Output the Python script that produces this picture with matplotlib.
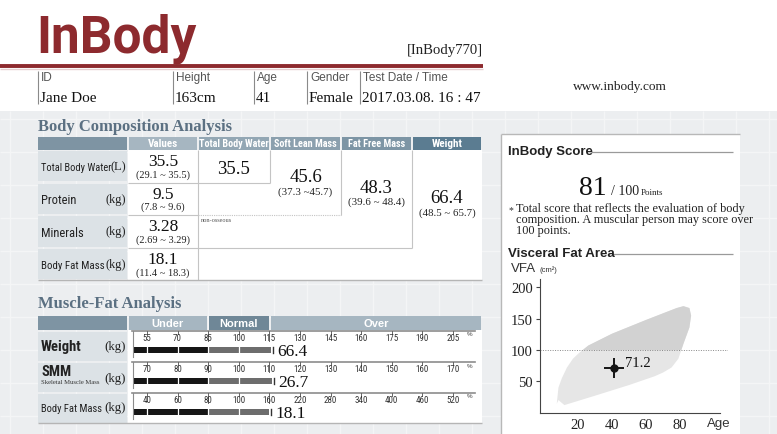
import numpy as np
import matplotlib
matplotlib.use("Agg")
import matplotlib.pyplot as plt
from matplotlib import font_manager as fm
from matplotlib.patches import Rectangle

# ---- data ----
info_labels = ["ID", "Height", "Age", "Gender", "Test Date / Time"]
info_values = ["Jane Doe", "163cm", "41", "Female", "2017.03.08. 16 : 47"]

bca_headers = ["Values", "Total Body Water", "Soft Lean Mass", "Fat Free Mass", "Weight"]
bca_rows = ["Total Body Water", "Protein", "Minerals", "Body Fat Mass"]
bca_units = ["(L)", "(kg)", "(kg)", "(kg)"]
bca_values = ["35.5", "9.5", "3.28", "18.1"]
bca_ranges = ["(29.1 ~ 35.5)", "(7.8 ~ 9.6)", "(2.69 ~ 3.29)", "(11.4 ~ 18.3)"]
sum_values = ["35.5", "45.6", "48.3", "66.4"]
sum_ranges = ["", "(37.3 ~45.7)", "(39.6 ~ 48.4)", "(48.5 ~ 65.7)"]

mfa_headers = ["Under", "Normal", "Over"]
mfa_rows = ["Weight", "SMM", "Body Fat Mass"]
mfa_values = [66.4, 26.7, 18.1]
mfa_percent = [116, 111, 159]
mfa_ticks = [
    [55, 70, 85, 100, 115, 130, 145, 160, 175, 190, 205],
    [70, 80, 90, 100, 110, 120, 130, 140, 150, 160, 170],
    [40, 60, 80, 100, 160, 220, 280, 340, 400, 460, 520],
]

score = 81
score_note = ["Total score that reflects the evaluation of body",
              "composition. A muscular person may score over",
              "100 points."]

vfa_age = 41
vfa_value = 71.2
region_age = [8.5, 7.5, 8.5, 10.5, 13.5, 17, 20.5, 26, 40, 60, 78, 82, 85.5, 86.5, 85.5, 82, 79, 75, 70, 65, 50, 30, 12]
region_vfa = [20, 14, 40, 55, 72, 86, 95, 107, 126, 148, 167, 170, 167, 155, 136, 110, 86, 72, 64, 58, 44, 27, 12]

# ---- style ----
W, H = 777, 435
SERIF = "Liberation Serif"
SANS = "Liberation Sans"
RED = "#8d2a2e"
SLATE = "#5b7082"
LINE = "#c4c4c4"
LABEL_BG = "#dce2e6"


def has_family(name):
    try:
        fm.findfont(fm.FontProperties(family=name), fallback_to_default=False)
        return True
    except ValueError:
        return False


NARROW = None
for cand in ["Liberation Sans Narrow", "Roboto Condensed", "Arial Narrow"]:
    if has_family(cand):
        NARROW = cand
        break


def narrow(size, bold=False):
    # condensed label font, or a smaller regular sans when none is installed
    if NARROW:
        return dict(family=NARROW, fontsize=size, weight="bold" if bold else "normal")
    return dict(family=SANS, fontsize=size * 0.84, weight="bold" if bold else "normal")


fig = plt.figure(figsize=(W / 100, H / 100), dpi=100)
fig.patch.set_facecolor("#eceef0")
ax = fig.add_axes([0, 0, 1, 1])
ax.set_xlim(0, W)
ax.set_ylim(H, 0)
ax.axis("off")


def px_axes(x0, y0, x1, y1):
    return fig.add_axes([x0 / W, 1 - y1 / H, (x1 - x0) / W, (y1 - y0) / H])


def box(x0, y0, x1, y1, color, z=1):
    ax.add_patch(Rectangle((x0, y0), x1 - x0, y1 - y0, facecolor=color,
                           edgecolor="none", zorder=z))


def seg(x0, y0, x1, y1, color=LINE, lw=0.8, ls="-", z=3):
    ax.plot([x0, x1], [y0, y1], color=color, lw=lw, ls=ls, zorder=z,
            solid_capstyle="butt")


# background texture
for gx in np.arange(10, W, 33):
    seg(gx, 112, gx, H, color="#f4f5f6", lw=1, z=0.5)
for gy in np.arange(120, H, 33):
    seg(0, gy, W, gy, color="#f4f5f6", lw=1, z=0.5)

# ---- header ----
box(0, 0, W, 112, "white")
ax.text(36, 53, "InBody", fontsize=37, family="Roboto", weight="bold",
        color=RED, va="baseline", zorder=5)
seg(0, 67, 483, 67, color=RED, lw=2.8, z=4)
seg(0, 69.5, 483, 69.5, color="#e6cfd0", lw=1, z=4)
ax.text(483, 54, "[InBody770]", fontsize=10.6, family=SERIF, ha="right",
        va="baseline", color="#222", zorder=5)

info_x = [38, 173, 254, 307, 360]
for x, lab, val in zip(info_x, info_labels, info_values):
    seg(x, 72, x, 105, color="#8a8a8a", lw=0.8)
    ax.text(x + 3, 78, lab, fontsize=8.5, family=SANS, color="#555", va="center")
    ax.text(x + 2, 98, val, fontsize=11, family=SERIF, color="#111", va="center")
ax.text(620, 87, "www.inbody.com", fontsize=9.6, family=SERIF, ha="center",
        va="center", color="#222")

# ---- Body Composition Analysis ----
ax.text(38, 127, "Body Composition Analysis", fontsize=12, family=SERIF,
        weight="bold", color=SLATE, va="center")
col_x = [38, 128, 198, 270, 341, 412, 482]
head_colors = ["#7e94a3", "#a6b6c1", "#93a7b4", "#8ba0ae", "#7d95a5", "#5b7c91"]
for i in range(6):
    box(col_x[i] + (0 if i == 0 else 1), 138, col_x[i + 1] - 1, 151, head_colors[i])
for i, h in enumerate(bca_headers):
    ax.text((col_x[i + 1] + col_x[i + 2]) / 2, 144.5, h, color="white",
            ha="center", va="center", zorder=5,
            **narrow(8 if h in ("Values", "Weight") else 7.3, bold=True))

row_top = 151
row_h = 32.6
label_sizes = [7.5, 9.0, 9.0, 7.8]
box(128, row_top, 482, row_top + 4 * row_h, "white")
for i, (name, unit, v, r) in enumerate(zip(bca_rows, bca_units, bca_values, bca_ranges)):
    t = row_top + i * row_h
    box(38, t + 1.2, 127, t + row_h - 1.2, LABEL_BG)
    ax.text(41, t + row_h / 2 + 1, name, color="#222", va="center", zorder=5,
            **narrow(label_sizes[i]))
    ax.text(126, t + row_h / 2, unit, fontsize=9, family=SERIF,
            color="#222", va="center", ha="right", zorder=5)
    ax.text(163, t + 11, v, fontsize=12.5, family=SERIF, ha="center",
            va="center", color="#111", zorder=5)
    ax.text(163, t + 24, r, fontsize=7.5, family=SERIF, ha="center",
            va="center", color="#222", zorder=5)
    if i > 0:
        seg(128, t, 198, t)

# nested summary boxes
bottom = row_top + 4 * row_h
seg(198, row_top, 198, bottom)
seg(270, row_top, 270, row_top + row_h)
seg(198, row_top + row_h, 270, row_top + row_h)
seg(341, row_top, 341, row_top + 2 * row_h)
seg(198, row_top + 2 * row_h, 341, row_top + 2 * row_h, ls=(0, (1, 1)))
seg(412, row_top, 412, row_top + 3 * row_h)
seg(198, row_top + 3 * row_h, 412, row_top + 3 * row_h)
seg(38, bottom, 482, bottom, color="#b5b5b5", lw=1)
ax.text(201, row_top + 2 * row_h + 4, "non-osseous", fontsize=4.5,
        family=SERIF, color="#555", va="center")

sum_pos = [(234, 170, 0), (305.5, 178, 192), (376.5, 189, 202.5), (447, 199, 213)]
for (x, yv, yr), v, r in zip(sum_pos, sum_values, sum_ranges):
    ax.text(x, yv, v, fontsize=13.5, family=SERIF, ha="center", va="center",
            color="#111", zorder=5)
    if r:
        ax.text(x, yr, r, fontsize=7.8, family=SERIF, ha="center",
                va="center", color="#222", zorder=5)

# ---- Muscle-Fat Analysis ----
ax.text(38, 304, "Muscle-Fat Analysis", fontsize=12, family=SERIF,
        weight="bold", color=SLATE, va="center")
mfa_x = [38, 128, 208, 270, 482]
mfa_colors = ["#7e94a3", "#a6b6c1", "#6f8797", "#a6b6c1"]
for i in range(4):
    box(mfa_x[i] + (0 if i == 0 else 1), 317, mfa_x[i + 1] - 1, 330.5, mfa_colors[i])
for i, h in enumerate(mfa_headers):
    ax.text((mfa_x[i + 1] + mfa_x[i + 2]) / 2, 323.8, h, fontsize=8,
            family=SANS, weight="bold", color="white", ha="center",
            va="center", zorder=5)

mfa_top = [332, 363, 394]
box(128, 331, 482, 424, "white")
seg(38, 424, 482, 424, color="#b5b5b5", lw=1)
for i, name in enumerate(mfa_rows):
    t = mfa_top[i]
    box(38, t + 1, 127, t + 30, LABEL_BG)
    if name == "SMM":
        ax.text(41, t + 9.5, name, color="#222", va="center", zorder=5,
                **narrow(10.5, bold=True))
        ax.text(41, t + 20, "Skeletal Muscle Mass", fontsize=4.8,
                family=SERIF, color="#333", va="center", zorder=5)
        uy = t + 16
    elif i == 0:
        ax.text(41, t + 15.5, name, color="#222", va="center", zorder=5,
                **narrow(10.5, bold=True))
        uy = t + 15
    else:
        ax.text(41, t + 15.5, name, color="#222", va="center", zorder=5,
                **narrow(7.6, bold=False))
        uy = t + 14.5
    ax.text(126, uy, "(kg)", fontsize=9.3, family=SERIF, color="#222",
            va="center", ha="right", zorder=5)

    ticks = mfa_ticks[i]
    pos = np.arange(len(ticks))
    end = np.interp(mfa_percent[i], ticks, pos)
    start = -0.45
    bx = px_axes(132, t, 475, t + 30)
    bx.set_xlim(-0.49, 10.72)
    bx.set_ylim(1, 0)
    bx.axis("off")
    bx.plot([-0.49, 10.72], [0.01, 0.01], color="#8c8c8c", lw=1.2, clip_on=False)
    bx.plot([-0.47, -0.47], [0, 0.85], color="#8c8c8c", lw=0.8)
    for p, tv in zip(pos, ticks):
        long = p in (2, 4)
        bx.plot([p, p], [0, 0.32 if long else 0.1], color="#666", lw=0.7)
        bx.text(p, 0.22, str(tv), color="#333", ha="center", va="center",
                **narrow(6.5))
    bx.text(10.55, 0.1, "%", fontsize=4.5, family=SANS, color="#444",
            ha="center", va="center")
    bx.barh(0.63, 2 - start, left=start, height=0.22, color="#161616")
    bx.barh(0.63, end - 2, left=2, height=0.22, color="#6d6d6d")
    for p in pos[(pos < end - 0.2)]:
        bx.plot([p, p], [0.52, 0.74], color="white", lw=0.9)
    bx.plot([end + 0.06] * 2, [0.53, 0.73], color="#333", lw=1)
    bx.text(end + 0.2, 0.66, f"{mfa_values[i]:.1f}", fontsize=12.5,
            family=SERIF, color="#111", va="center")

# ---- right panel ----
box(501, 135, 740, H, "white")
seg(501, 135, 740, 135, color="#b8b8b8", lw=1)
seg(501, 135, 501, H, color="#b8b8b8", lw=1)

ax.text(508, 152, "InBody Score", fontsize=9.5, family=SANS, weight="bold",
        color="#222", va="center", zorder=5)
seg(591, 153, 733, 153, color="#9a9a9a", lw=0.9)
ax.text(607, 195, str(score), fontsize=20, family=SERIF, ha="right",
        va="baseline", color="#111", zorder=5)
ax.text(611, 195, "/ 100", fontsize=10, family=SERIF, va="baseline",
        color="#222", zorder=5)
ax.text(641, 195, "Points", fontsize=6.5, family=SERIF, va="baseline",
        color="#222", zorder=5)
ax.text(509, 211, "*", fontsize=7, family=SERIF, va="center", color="#333", zorder=5)
for k, line in enumerate(score_note):
    ax.text(516, 209 + k * 11, line, fontsize=8.8, family=SERIF,
            va="center", color="#222", zorder=5)

ax.text(508, 254, "Visceral Fat Area", fontsize=9.5, family=SANS,
        weight="bold", color="#222", va="center", zorder=5)
seg(612, 255, 733, 255, color="#9a9a9a", lw=0.9)
ax.text(511, 269, "VFA", fontsize=9.5, family=SANS, color="#333",
        va="center", zorder=5)
ax.text(539, 270, "(cm²)", fontsize=5.5, family=SANS, color="#333",
        va="center", zorder=5)

vx = px_axes(540, 280, 728, 413.6)
vx.patch.set_alpha(0)
vx.set_xlim(-2.35, 108.2)
vx.set_ylim(0, 213.4)
region = vx.fill(region_age, region_vfa, color="#e6e6e6", lw=0)[0]
upper = vx.axhspan(100, 300, color="#d2d2d2", lw=0)
upper.set_clip_path(region)
vx.axhline(100, color="#888", lw=0.7, ls=(0, (1, 1.5)))
vx.errorbar(vfa_age, vfa_value, xerr=6, yerr=16, fmt="o", ms=5,
            color="#151515", elinewidth=1.4, capsize=0)
vx.annotate(f"{vfa_value}", (vfa_age, vfa_value), xytext=(8, 4),
            textcoords="offset points", fontsize=10.5, family=SERIF,
            color="#111", va="center")
for s in ["top", "right"]:
    vx.spines[s].set_visible(False)
vx.spines["left"].set_color("#444")
vx.spines["bottom"].set_color("#444")
vx.spines["bottom"].set_bounds(-2.35, 103.5)
vx.set_yticks([50, 100, 150, 200])
vx.set_xticks([20, 40, 60, 80])
vx.tick_params(axis="y", length=3, width=0.8, color="#444", pad=2,
               labelsize=10.5, labelcolor="#222")
vx.tick_params(axis="x", length=0, pad=4, labelsize=10.5, labelcolor="#222")
for lab in vx.get_xticklabels() + vx.get_yticklabels():
    lab.set_family(SERIF)
ax.text(719, 424, "Age", fontsize=9.5, family=SANS, color="#333",
        ha="center", va="center", zorder=5)

fig.savefig("out.png", dpi=100, facecolor=fig.get_facecolor())
